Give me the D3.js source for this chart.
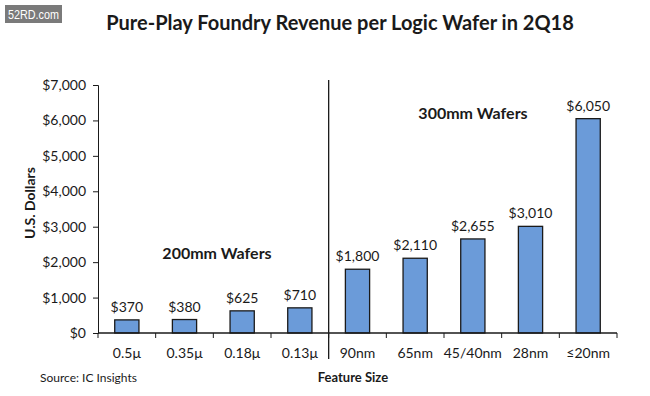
<!DOCTYPE html>
<html>
<head>
<meta charset="utf-8">
<script src="https://cdn.jsdelivr.net/npm/d3@7"></script>
<style>
  body { margin: 0; background: #fff; }
  text { font-family: Lato, "Open Sans", sans-serif; fill: #1a1a1a; }
</style>
</head>
<body>
<div id="chart"></div>
<script>
const categories = ["0.5\u03bc", "0.35\u03bc", "0.18\u03bc", "0.13\u03bc", "90nm", "65nm", "45/40nm", "28nm", "\u226420nm"];
const revenue = [370, 380, 625, 710, 1800, 2110, 2655, 3010, 6050];
const yTicks = [0, 1000, 2000, 3000, 4000, 5000, 6000, 7000];

const width = 650, height = 396;
const margin = {left: 98, right: 33, top: 85, bottom: 63};

const svg = d3.select("#chart").append("svg")
  .attr("width", width)
  .attr("height", height);

// watermark
svg.append("rect").attr("x", 5).attr("y", 5).attr("width", 57).attr("height", 18).attr("fill", "#7a7a7a");
svg.append("text").attr("x", 8).attr("y", 19)
  .attr("textLength", 51).attr("lengthAdjust", "spacingAndGlyphs")
  .style("font-size", "13px").style("fill", "#fff").style("font-family", "'Liberation Sans', sans-serif")
  .text("52RD.com");

svg.append("text")
  .attr("x", 340).attr("y", 30)
  .attr("text-anchor", "middle")
  .style("font-size", "20px").style("font-weight", "bold")
  .text("Pure-Play Foundry Revenue per Logic Wafer in 2Q18");

let x = d3.scaleBand()
  .domain(categories)
  .range([margin.left, width - margin.right])
  .paddingInner(0.58)
  .paddingOuter(0.29);

let y = d3.scaleLinear()
  .domain([0, 7000])
  .range([height - margin.bottom, margin.top]);

// y axis
let yAxis = svg.append("g")
  .attr("transform", `translate(${margin.left},0)`)
  .call(d3.axisLeft(y).tickValues(yTicks).tickSize(5).tickPadding(7)
    .tickFormat(d => "$" + d3.format(",")(d)));
yAxis.selectAll("text").style("font-size", "14px").style("font-family", "Lato, 'Open Sans', sans-serif");
yAxis.selectAll("line,path").attr("stroke", "#1a1a1a");

svg.append("text")
  .attr("transform", "translate(35,203) rotate(-90)")
  .attr("text-anchor", "middle")
  .style("font-size", "14px").style("font-weight", "bold")
  .text("U.S. Dollars");

// bars
svg.selectAll(".bar").data(revenue).enter().append("rect")
  .attr("class", "bar")
  .attr("x", (d, i) => x(categories[i]))
  .attr("y", d => y(d))
  .attr("width", x.bandwidth())
  .attr("height", d => y(0) - y(d))
  .attr("fill", "#6b9bd9")
  .attr("stroke", "#1a1a1a")
  .attr("stroke-width", 1.3);

svg.selectAll(".val").data(revenue).enter().append("text")
  .attr("class", "val")
  .attr("x", (d, i) => x(categories[i]) + x.bandwidth() / 2)
  .attr("y", d => y(d) - 8)
  .attr("text-anchor", "middle")
  .style("font-size", "14px")
  .text(d => "$" + d3.format(",")(d));

// x axis with ticks between categories
let x0 = margin.left, x1 = width - margin.right, y0 = y(0);
svg.append("line").attr("x1", x0).attr("x2", x1).attr("y1", y0).attr("y2", y0)
  .attr("stroke", "#1a1a1a").attr("stroke-width", 1.3);
let step = x.step();
let bounds = d3.range(categories.length + 1).map(i => x0 + i * step);
svg.selectAll(".xtick").data(bounds).enter().append("line")
  .attr("x1", d => d).attr("x2", d => d)
  .attr("y1", y0).attr("y2", y0 + 5)
  .attr("stroke", "#1a1a1a");

svg.selectAll(".xlab").data(categories).enter().append("text")
  .attr("x", d => x(d) + x.bandwidth() / 2)
  .attr("y", y0 + 25)
  .attr("text-anchor", "middle")
  .style("font-size", "14px")
  .text(d => d);

// divider between 200mm and 300mm
let divX = x0 + 4 * step;
svg.append("line").attr("x1", divX).attr("x2", divX).attr("y1", 80).attr("y2", 359)
  .attr("stroke", "#1a1a1a").attr("stroke-width", 1.3);

svg.append("text").attr("x", 217).attr("y", 259).attr("text-anchor", "middle")
  .style("font-size", "16px").style("font-weight", "bold").text("200mm Wafers");
svg.append("text").attr("x", 473).attr("y", 119).attr("text-anchor", "middle")
  .style("font-size", "16px").style("font-weight", "bold").text("300mm Wafers");

svg.append("text").attr("x", 40).attr("y", 382)
  .style("font-size", "12px").text("Source: IC Insights");
svg.append("text").attr("x", 353).attr("y", 382).attr("text-anchor", "middle")
  .style("font-size", "13px").style("font-weight", "bold").text("Feature Size");
</script>
</body>
</html>
